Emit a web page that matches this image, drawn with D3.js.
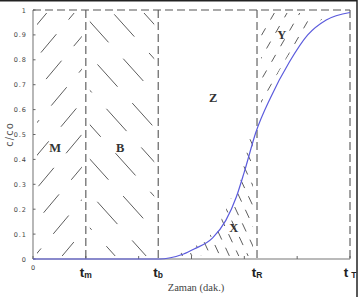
<!DOCTYPE html>
<html>
<head>
<meta charset="utf-8">
<script src="https://cdn.jsdelivr.net/npm/d3@7"></script>
<style>
  body { margin: 0; background: #fff; }
  svg { display: block; }
</style>
</head>
<body>
<div id="chart"></div>
<script>
// data
const xTicks = [0, 1, 2, 3, 4, 5, 6];
const yTicks = [0, 0.1, 0.2, 0.3, 0.4, 0.5, 0.6, 0.7, 0.8, 0.9, 1];
const yTickLabels = ['0', '0.1', '0.2', '0.3', '0.4', '0.5', '0.6', '0.7', '0.8', '0.9', '1'];
const markerNames = ['m', 'b', 'R', 'T'];
const markerPos = [1, 2.37, 4.24, 6];
const curveX = [0, 2.4, 2.6, 2.85, 3.05, 3.4, 3.65, 3.85, 4.0, 4.22, 4.5, 4.85, 5.2, 5.55, 6.0];
const curveY = [0, 0, 0.005, 0.02, 0.04, 0.085, 0.155, 0.25, 0.35, 0.51, 0.65, 0.79, 0.9, 0.96, 0.99];
const regionNames = ['M', 'B', 'Z', 'X', 'Y'];
const regionX = [0.42, 1.65, 3.41, 3.8, 4.71];
const regionY = [0.43, 0.43, 0.63, 0.11, 0.885];

const width = 360, height = 297;
const margin = {top: 10, right: 10, bottom: 38, left: 33};

const svg = d3.select('#chart').append('svg')
  .attr('width', width)
  .attr('height', height);

const x = d3.scaleLinear().domain([0, 6]).range([margin.left, width - margin.right]);
const y = d3.scaleLinear().domain([0, 1]).range([height - margin.bottom, margin.top]);

const pts = curveX.map((d, i) => [d, curveY[i]]);
const line = d3.line().x(d => x(d[0])).y(d => y(d[1])).curve(d3.curveMonotoneX);
const below = d3.area().x(d => x(d[0])).y0(y(0)).y1(d => y(d[1])).curve(d3.curveMonotoneX);
const above = d3.area().x(d => x(d[0])).y0(y(1)).y1(d => y(d[1])).curve(d3.curveMonotoneX);

const defs = svg.append('defs');
function rectClip(id, x0, x1) {
  defs.append('clipPath').attr('id', id).append('rect')
    .attr('x', x(x0) + 4).attr('y', y(1) + 3)
    .attr('width', x(x1) - x(x0) - 8).attr('height', y(0) - y(1) - 6);
}
rectClip('cM', 0, markerPos[0]);
rectClip('cB', markerPos[0], markerPos[1]);
rectClip('cX', markerPos[1], markerPos[2]);
rectClip('cY', markerPos[2], markerPos[3]);
defs.append('clipPath').attr('id', 'cBelow').append('path').attr('d', below(pts)).attr('transform', 'translate(-5,0)');
defs.append('clipPath').attr('id', 'cAbove').append('path').attr('d', above(pts)).attr('transform', 'translate(-5,0)');

// parallel dashed strokes across the plot, clipped to a region
function hatch(g, angle, spacing, dash, shift) {
  const a = angle * Math.PI / 180;
  const dx = Math.cos(a), dy = -Math.sin(a);
  const nx = -dy, ny = dx;
  const cx = (x(0) + x(6)) / 2, cy = (y(0) + y(1)) / 2;
  const L = 500;
  for (let k = -30; k <= 30; k++) {
    const ox = cx + nx * k * spacing, oy = cy + ny * k * spacing;
    g.append('line')
      .attr('x1', ox - dx * L).attr('y1', oy - dy * L)
      .attr('x2', ox + dx * L).attr('y2', oy + dy * L)
      .attr('stroke', '#333')
      .attr('stroke-width', 0.8)
      .attr('stroke-dasharray', dash)
      .attr('stroke-dashoffset', (k * shift) % 50);
  }
}

hatch(svg.append('g').attr('clip-path', 'url(#cM)'), 50, 21, '24,19', 17);
hatch(svg.append('g').attr('clip-path', 'url(#cB)'), 132, 23, '30,22', 13);
hatch(svg.append('g').attr('clip-path', 'url(#cX)').append('g').attr('clip-path', 'url(#cBelow)'), 115, 8.5, '9,9', 7);
hatch(svg.append('g').attr('clip-path', 'url(#cY)').append('g').attr('clip-path', 'url(#cAbove)'), 60, 11, '8,10', 9);

// axes
svg.append('line')
  .attr('x1', x(0)).attr('x2', x(0)).attr('y1', y(0)).attr('y2', y(1))
  .attr('stroke', '#888').attr('stroke-width', 1.2);
svg.append('line')
  .attr('x1', x(0)).attr('x2', x(6)).attr('y1', y(0)).attr('y2', y(0))
  .attr('stroke', '#777').attr('stroke-width', 1.2);

svg.append('g').selectAll('line').data(yTicks).join('line')
  .attr('x1', x(0)).attr('x2', x(0) + 2.5)
  .attr('y1', d => y(d)).attr('y2', d => y(d))
  .attr('stroke', '#666');
svg.append('g').selectAll('text').data(yTicks).join('text')
  .attr('x', x(0) - 6).attr('y', d => y(d) + 2.5)
  .attr('text-anchor', 'end')
  .attr('font-family', 'DejaVu Sans, sans-serif')
  .attr('font-size', 6.5)
  .attr('letter-spacing', 1)
  .attr('fill', '#444')
  .text((d, i) => yTickLabels[i]);

svg.append('g').selectAll('line').data(xTicks).join('line')
  .attr('x1', d => x(d)).attr('x2', d => x(d))
  .attr('y1', y(0)).attr('y2', y(0) - 3)
  .attr('stroke', '#666');
svg.append('text')
  .attr('x', x(0)).attr('y', y(0) + 11)
  .attr('text-anchor', 'middle')
  .attr('font-family', 'DejaVu Sans, sans-serif')
  .attr('font-size', 6.5)
  .attr('fill', '#444')
  .text('0');

// dashed guide lines
const dashStyle = g => g.attr('stroke', '#555').attr('stroke-width', 1.1).attr('stroke-dasharray', '8,4');
svg.append('line')
  .attr('x1', x(0)).attr('x2', x(6)).attr('y1', y(1)).attr('y2', y(1))
  .call(dashStyle);
svg.append('g').selectAll('line').data(markerPos).join('line')
  .attr('x1', d => x(d)).attr('x2', d => x(d))
  .attr('y1', y(1)).attr('y2', y(0))
  .call(dashStyle);

// curve
svg.append('path')
  .attr('d', line(pts))
  .attr('fill', 'none')
  .attr('stroke', '#5b5bdd')
  .attr('stroke-width', 1.2);

// t labels
const tl = svg.append('g').selectAll('text').data(markerPos).join('text')
  .attr('x', d => x(d))
  .attr('y', y(0) + 18)
  .attr('text-anchor', 'middle')
  .attr('font-family', 'Liberation Sans, Arial, sans-serif')
  .attr('font-weight', 'bold')
  .attr('fill', '#222');
tl.append('tspan').attr('font-size', 13.5).text('t');
tl.append('tspan').attr('font-size', 8.5).attr('dy', 1)
  .attr('dx', (d, i) => i === 3 ? 3 : 0)
  .text((d, i) => markerNames[i]);

// region labels
svg.append('g').selectAll('text').data(regionNames).join('text')
  .attr('x', (d, i) => x(regionX[i]))
  .attr('y', (d, i) => y(regionY[i]))
  .attr('text-anchor', 'middle')
  .attr('font-family', 'Liberation Serif, Times New Roman, serif')
  .attr('font-weight', 'bold')
  .attr('font-size', 12.5)
  .attr('fill', '#333')
  .text(d => d);

// axis titles
svg.append('text')
  .attr('transform', `translate(13,${(y(0) + y(1)) / 2}) rotate(-90)`)
  .attr('text-anchor', 'middle')
  .attr('font-family', 'DejaVu Sans, sans-serif')
  .attr('font-size', 10)
  .attr('letter-spacing', 1)
  .attr('fill', '#555')
  .text('c/co');
svg.append('text')
  .attr('x', 196).attr('y', 291)
  .attr('text-anchor', 'middle')
  .attr('font-family', 'Liberation Serif, Times New Roman, serif')
  .attr('font-size', 10.5)
  .attr('fill', '#444')
  .text('Zaman (dak.)');

// outer frame (only top and right edges show)
svg.append('rect')
  .attr('x', -2).attr('y', 0.75)
  .attr('width', 359).attr('height', 300)
  .attr('fill', 'none')
  .attr('stroke', '#222')
  .attr('stroke-width', 1.5);
</script>
</body>
</html>
